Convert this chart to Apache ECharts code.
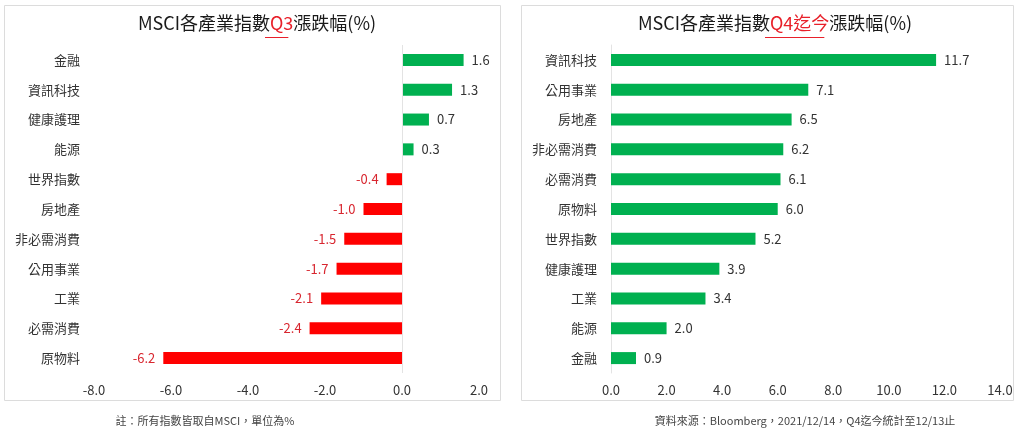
<!DOCTYPE html>
<html>
<head>
<meta charset="utf-8">
<script src="https://cdn.jsdelivr.net/npm/echarts@6/dist/echarts.min.js"></script>
<style>
  html, body { margin: 0; padding: 0; background: #fff; }
  #main { width: 1024px; height: 429px; }
</style>
</head>
<body>
<div id="main"></div>
<script>
// Q3 漲跌幅 (左圖)
const q3Categories = ['金融', '資訊科技', '健康護理', '能源', '世界指數', '房地產', '非必需消費', '公用事業', '工業', '必需消費', '原物料'];
const q3Values = [1.6, 1.3, 0.7, 0.3, -0.4, -1.0, -1.5, -1.7, -2.1, -2.4, -6.2];
const q3Ticks = [-8, -6, -4, -2, 0, 2];

// Q4迄今 漲跌幅 (右圖)
const q4Categories = ['資訊科技', '公用事業', '房地產', '非必需消費', '必需消費', '原物料', '世界指數', '健康護理', '工業', '能源', '金融'];
const q4Values = [11.7, 7.1, 6.5, 6.2, 6.1, 6.0, 5.2, 3.9, 3.4, 2.0, 0.9];
const q4Ticks = [0, 2, 4, 6, 8, 10, 12, 14];

const FONT = '"Noto Sans CJK TC", "Noto Sans", sans-serif';
const GREEN = '#00b050';
const RED = '#ff0000';
const RED_TEXT = '#d8262f';
const TITLE_RED = '#e8202a';
const TEXT = '#333333';
const TITLE_SIZE = 18;

const chart = echarts.init(document.getElementById('main'));

const fmt = v => Number(v).toFixed(1);

// 量文字寬度，用來把紅色底線放在標題的紅字下方
const ctx = document.createElement('canvas').getContext('2d');
ctx.font = TITLE_SIZE + 'px ' + FONT;
const underline = (center, pre, mid, post) => {
    const w1 = ctx.measureText(pre).width;
    const w2 = ctx.measureText(mid).width;
    const w3 = ctx.measureText(post).width;
    const start = center - (w1 + w2 + w3) / 2 + w1;
    return {
        type: 'line', silent: true,
        shape: { x1: start, y1: 37.5, x2: start + w2, y2: 37.5 },
        style: { stroke: TITLE_RED, lineWidth: 1 },
    };
};

const catAxis = (idx, cats) => ({
    type: 'category',
    gridIndex: idx,
    data: cats,
    inverse: true,
    axisLine: { show: false },
    axisTick: { show: false },
    axisLabel: { color: TEXT, fontSize: 13, fontFamily: FONT, margin: 14 },
});

const valAxis = (idx, ticks) => ({
    type: 'value',
    gridIndex: idx,
    min: ticks[0],
    max: ticks[ticks.length - 1],
    interval: 2,
    splitLine: { show: false },
    axisLine: { show: false },
    axisTick: { show: false },
    axisLabel: {
        color: TEXT, fontSize: 13, fontFamily: FONT, margin: 11,
        formatter: v => v.toFixed(1),
    },
});

const zeroLine = {
    silent: true,
    symbol: ['none', 'none'],
    label: { show: false },
    lineStyle: { color: '#e3e3e3', type: 'solid', width: 1 },
    data: [{ xAxis: 0 }],
};

const titleRich = {
    t: { fontSize: TITLE_SIZE, color: '#1a1a1a', fontFamily: FONT, fontWeight: 'normal' },
    r: { fontSize: TITLE_SIZE, color: TITLE_RED, fontFamily: FONT, fontWeight: 'normal' },
};

const noteStyle = { fontSize: 11, color: '#444', fontWeight: 'normal', fontFamily: FONT };

chart.setOption({
    animation: false,
    backgroundColor: '#fff',
    title: [
        {
            text: '{t|MSCI各產業指數}{r|Q3}{t|漲跌幅(%)}',
            left: 252, top: 9, textAlign: 'center',
            textStyle: { rich: titleRich },
        },
        {
            text: '{t|MSCI各產業指數}{r|Q4迄今}{t|漲跌幅(%)}',
            left: 770, top: 9, textAlign: 'center',
            textStyle: { rich: titleRich },
        },
        {
            text: '註：所有指數皆取自MSCI，單位為%',
            left: 200, top: 410, textAlign: 'center',
            textStyle: noteStyle,
        },
        {
            text: '資料來源：Bloomberg，2021/12/14，Q4迄今統計至12/13止',
            left: 800, top: 410, textAlign: 'center',
            textStyle: noteStyle,
        },
    ],
    grid: [
        { left: 94, right: 545, top: 45, height: 328 },
        { left: 611, right: 24, top: 45, height: 328 },
    ],
    xAxis: [valAxis(0, q3Ticks), valAxis(1, q4Ticks)],
    yAxis: [
        catAxis(0, q3Categories),
        Object.assign(catAxis(1, q4Categories), {
            axisLine: { show: true, lineStyle: { color: '#e3e3e3' } },
        }),
    ],
    series: [
        {
            type: 'bar',
            xAxisIndex: 0,
            yAxisIndex: 0,
            barWidth: 12,
            data: q3Values.map(v => ({
                value: v,
                itemStyle: { color: v >= 0 ? GREEN : RED },
                label: {
                    position: v >= 0 ? 'right' : 'left',
                    color: v >= 0 ? TEXT : RED_TEXT,
                },
            })),
            label: {
                show: true, fontSize: 13, fontFamily: FONT, distance: 8,
                formatter: p => fmt(p.value),
            },
            markLine: zeroLine,
        },
        {
            type: 'bar',
            xAxisIndex: 1,
            yAxisIndex: 1,
            barWidth: 12,
            itemStyle: { color: GREEN },
            data: q4Values,
            label: {
                show: true, position: 'right', color: TEXT, fontSize: 13,
                fontFamily: FONT, distance: 8,
                formatter: p => fmt(p.value),
            },
        },
    ],
    graphic: [
        // 外框
        { type: 'rect', shape: { x: 4.5, y: 5.5, width: 496, height: 395 }, style: { fill: 'none', stroke: '#dcdcdc', lineWidth: 1 }, silent: true },
        { type: 'rect', shape: { x: 521.5, y: 5.5, width: 492, height: 395 }, style: { fill: 'none', stroke: '#dcdcdc', lineWidth: 1 }, silent: true },
        // 標題紅字底線
        underline(252, 'MSCI各產業指數', 'Q3', '漲跌幅(%)'),
        underline(770, 'MSCI各產業指數', 'Q4迄今', '漲跌幅(%)'),
    ],
});
</script>
</body>
</html>
